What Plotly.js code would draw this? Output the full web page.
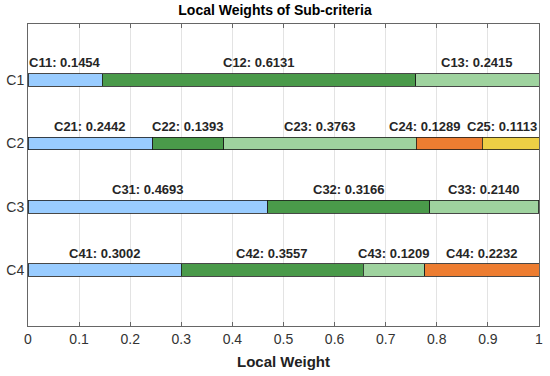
<!DOCTYPE html>
<html>
<head>
<meta charset="utf-8">
<script src="https://cdn.plot.ly/plotly-3.0.1.min.js"></script>
<style>html,body{margin:0;padding:0;background:#fff;}#chart{width:550px;height:376px;}</style>
</head>
<body>
<div id="chart"></div>
<script>
// Data
const groups = ["C1", "C2", "C3", "C4"];
const subNames = [
  ["C11", "C12", "C13"],
  ["C21", "C22", "C23", "C24", "C25"],
  ["C31", "C32", "C33"],
  ["C41", "C42", "C43", "C44"]
];
const subWeights = [
  [0.1454, 0.6131, 0.2415],
  [0.2442, 0.1393, 0.3763, 0.1289, 0.1113],
  [0.4693, 0.3166, 0.2140],
  [0.3002, 0.3557, 0.1209, 0.2232]
];
const xTicks = [0, 0.1, 0.2, 0.3, 0.4, 0.5, 0.6, 0.7, 0.8, 0.9, 1];
const xTickText = ["0", "0.1", "0.2", "0.3", "0.4", "0.5", "0.6", "0.7", "0.8", "0.9", "1"];

// Styles
const segColors = ["#99CCFF", "#4A9A4A", "#9FD39F", "#ED7D31", "#EDCF45"];
const labelShift = [
  [0, 0, 0],
  [0, 0, 0, -24, -9],
  [0, 0, 0],
  [0, 0, 0, 0]
];
const FONT = "Liberation Sans, Arial, sans-serif";

const maxSeg = Math.max(...subWeights.map(a => a.length));
const traces = [];
for (let k = 0; k < maxSeg; k++) {
  const xs = [], ys = [];
  subWeights.forEach((w, g) => {
    if (k < w.length) { xs.push(w[k]); ys.push(g + 1); }
  });
  traces.push({
    type: "bar", orientation: "h", x: xs, y: ys, width: 0.2,
    marker: { color: segColors[k], line: { color: "#1a1a1a", width: 0.8 } },
    hoverinfo: "skip", showlegend: false
  });
}

const annotations = [];
subWeights.forEach((w, g) => {
  let cum = 0;
  w.forEach((v, k) => {
    annotations.push({
      x: cum + v / 2, y: g + 1, xref: "x", yref: "y",
      text: subNames[g][k] + ": " + v.toFixed(4),
      showarrow: false, yshift: 17, xshift: labelShift[g][k],
      font: { family: FONT, size: 13, color: "#262626", weight: "bold" }
    });
    cum += v;
  });
});

const layout = {
  width: 550, height: 376,
  margin: { l: 28, r: 11, t: 24, b: 50 },
  paper_bgcolor: "#fff", plot_bgcolor: "#fff",
  barmode: "stack", bargap: 0,
  title: { text: "<b>Local Weights of Sub-criteria</b>", x: 0.5, xanchor: "center", y: 1, yref: "container", yanchor: "top", pad: { t: 5 },
    font: { family: FONT, size: 14, color: "#000" } },
  xaxis: {
    range: [0, 1], tickvals: xTicks, ticktext: xTickText,
    showgrid: true, gridcolor: "#e3e3e3", gridwidth: 1,
    ticks: "inside", ticklen: 4, tickcolor: "#666", mirror: "ticks",
    showline: true, linecolor: "#666", linewidth: 1, zeroline: false,
    tickfont: { family: FONT, size: 14, color: "#333" },
    title: { text: "<b>Local Weight</b>", standoff: 10, font: { family: FONT, size: 15, color: "#222" } }
  },
  yaxis: {
    range: [4.884, 0.116], tickvals: [1, 2, 3, 4], ticktext: groups,
    showgrid: false, zeroline: false, ticks: "", mirror: true,
    showline: true, linecolor: "#666", linewidth: 1,
    tickfont: { family: FONT, size: 14, color: "#333" }
  },
  annotations: annotations
};

Plotly.newPlot("chart", traces, layout, { staticPlot: true, displayModeBar: false });
</script>
</body>
</html>
